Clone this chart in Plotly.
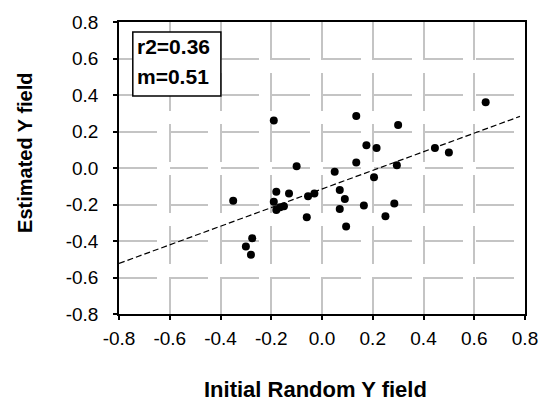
import plotly.graph_objects as go

# ---- data ----
initial_y = [-0.35, -0.30, -0.275, -0.28, -0.19, -0.18, -0.19, -0.18, -0.15, -0.165,
             -0.13, -0.10, -0.06, -0.055, -0.03, 0.05, 0.07, 0.09, 0.07, 0.095,
             0.135, 0.135, 0.165, 0.175, 0.215, 0.205, 0.25, 0.285, 0.295, 0.30,
             0.445, 0.50, 0.645]
estimated_y = [-0.18, -0.43, -0.385, -0.475, 0.26, -0.13, -0.185, -0.23, -0.21, -0.215,
               -0.14, 0.01, -0.27, -0.155, -0.14, -0.02, -0.12, -0.17, -0.225, -0.32,
               0.285, 0.03, -0.205, 0.125, 0.11, -0.05, -0.265, -0.195, 0.015, 0.235,
               0.11, 0.085, 0.36]
fit_slope = 0.51
fit_intercept = -0.115
fit_x_range = [-0.8, 0.78]
r2_text = "r2=0.36"
m_text = "m=0.51"
tick_vals = [-0.8, -0.6, -0.4, -0.2, 0.0, 0.2, 0.4, 0.6, 0.8]
tick_text = ["-0.8", "-0.6", "-0.4", "-0.2", "0.0", "0.2", "0.4", "0.6", "0.8"]
x_title = "Initial Random Y field"
y_title = "Estimated Y field"

fit_y = [fit_slope * x + fit_intercept for x in fit_x_range]

FONT = "Liberation Sans, Arial, sans-serif"

fig = go.Figure()
fig.add_trace(go.Scatter(x=fit_x_range, y=fit_y, mode="lines",
                         line=dict(color="black", width=1.2, dash="6px,3px"),
                         hoverinfo="skip", showlegend=False))
fig.add_trace(go.Scatter(x=initial_y, y=estimated_y, mode="markers",
                         marker=dict(color="black", size=8),
                         showlegend=False))

axis_common = dict(
    range=[-0.8, 0.8], tickmode="array", tickvals=tick_vals, ticktext=tick_text,
    showgrid=True, gridcolor="#c4c4c4", gridwidth=2, griddash="38px,13px",
    zeroline=False, showline=True, linecolor="black", linewidth=1.5, mirror=True,
    ticks="outside", ticklen=4, tickwidth=1.5, tickcolor="black",
    tickfont=dict(family=FONT, size=19, color="black"),
)

fig.update_xaxes(**axis_common, ticklabelstandoff=2)
fig.update_yaxes(**axis_common, ticklabelstandoff=11)

fig.update_layout(
    width=550, height=406,
    margin=dict(l=119, r=21, t=18, b=92),
    paper_bgcolor="white", plot_bgcolor="white",
    font=dict(family=FONT, color="black"),
)

fig.add_annotation(text="<b>" + x_title + "</b>", xref="paper", yref="paper",
                   x=0.485, y=-0.26, xanchor="center", yanchor="middle",
                   showarrow=False, font=dict(family=FONT, size=22, color="black"))
fig.add_annotation(text="<b>" + y_title + "</b>", xref="paper", yref="paper",
                   x=-0.232, y=0.551, xanchor="center", yanchor="middle", textangle=-90,
                   showarrow=False, font=dict(family=FONT, size=20, color="black"))

fig.add_shape(type="rect", xref="paper", yref="paper",
              x0=0.034, x1=0.251, y0=0.747, y1=0.966,
              line=dict(color="black", width=1.5), fillcolor="white", layer="above")
fig.add_annotation(text="<b>" + r2_text + "</b>", xref="paper", yref="paper",
                   x=0.039, y=0.9145, xanchor="left", yanchor="middle",
                   showarrow=False, font=dict(family=FONT, size=21, color="black"))
fig.add_annotation(text="<b>" + m_text + "</b>", xref="paper", yref="paper",
                   x=0.039, y=0.813, xanchor="left", yanchor="middle",
                   showarrow=False, font=dict(family=FONT, size=21, color="black"))

fig.write_html("out.html")
